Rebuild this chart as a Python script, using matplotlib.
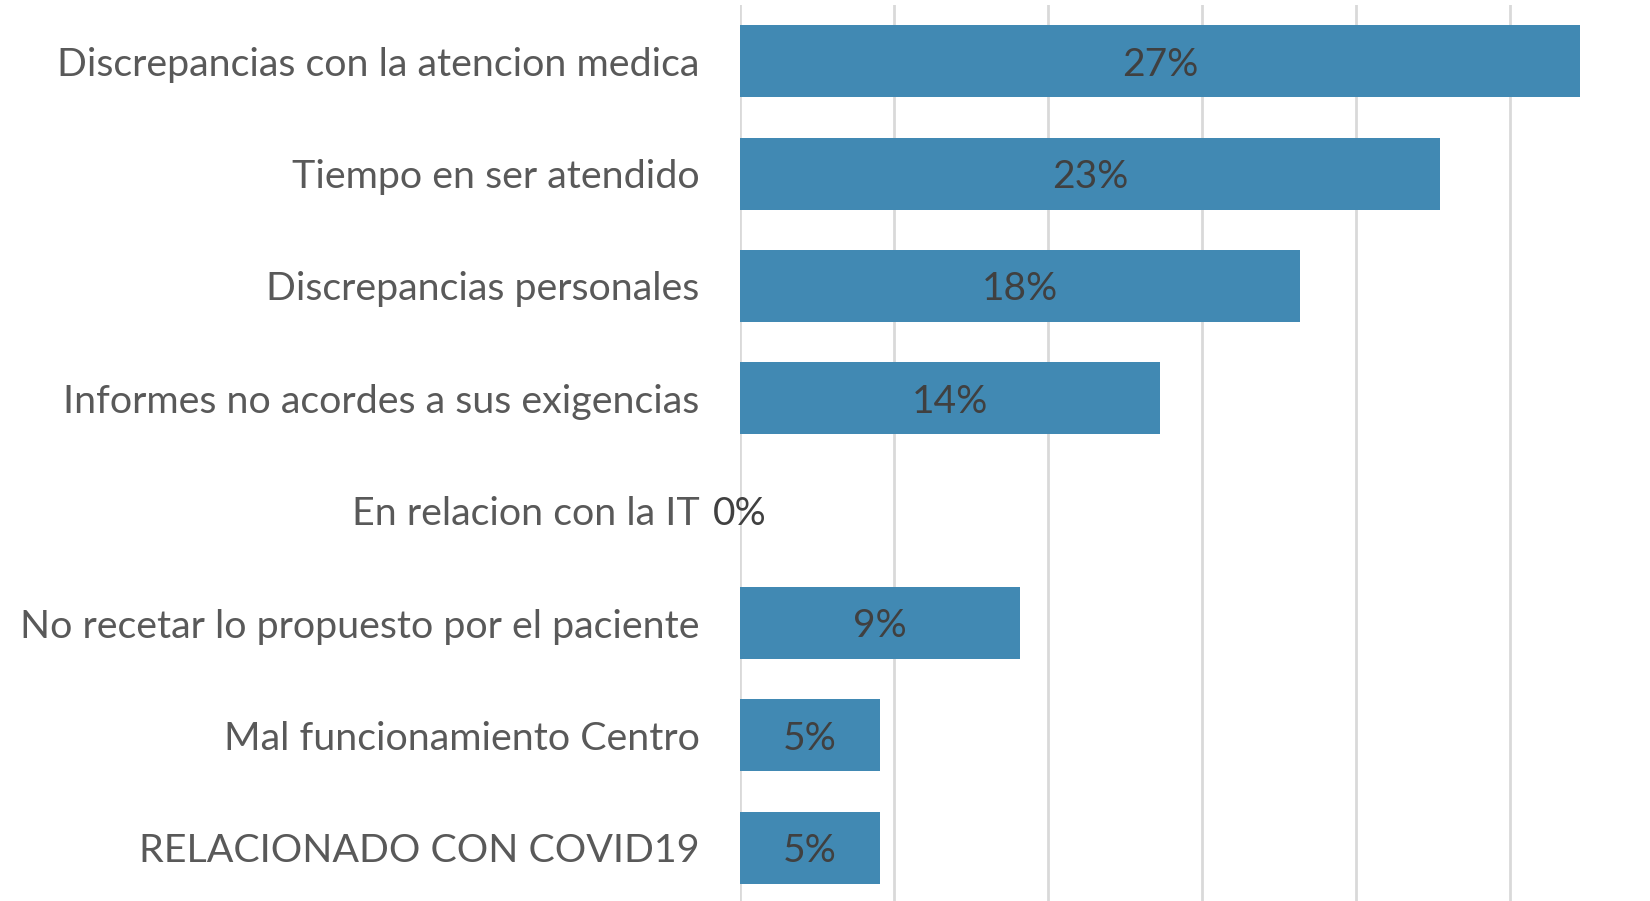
import matplotlib
matplotlib.use("Agg")
import matplotlib.pyplot as plt

categories = [
    "Discrepancias con la atencion medica",
    "Tiempo en ser atendido",
    "Discrepancias personales",
    "Informes no acordes a sus exigencias",
    "En relacion con la IT",
    "No recetar lo propuesto por el paciente",
    "Mal funcionamiento Centro",
    "RELACIONADO CON COVID19",
]
counts = [6, 5, 4, 3, 0, 2, 1, 1]
total = 22
values = [c / total for c in counts]
labels = ["27%", "23%", "18%", "14%", "0%", "9%", "5%", "5%"]

W, H = 1650, 901
fig = plt.figure(figsize=(W / 100, H / 100), dpi=100)
ax = fig.add_axes([740 / W, (901 - 904) / H, 924 / W, 899 / H])

font = "Lato"
y = list(range(len(categories)))
ax.barh(y, values, height=0.64, color="#4189B3", zorder=3)
ax.set_xlim(0, 0.30)
ax.set_ylim(len(categories) - 0.5, -0.5)
ax.set_xticks([0, 0.05, 0.10, 0.15, 0.20, 0.25, 0.30])
ax.xaxis.grid(True, color="#D9D9D9", linewidth=2)
ax.set_xticklabels([])
ax.tick_params(axis="x", length=0)
ax.set_yticks(y)
ax.set_yticklabels(categories, fontsize=28.4, color="#595959", fontfamily=font)
ax.tick_params(axis="y", length=0, pad=29)
for s in ax.spines.values():
    s.set_visible(False)

for yi, v, lab in zip(y, values, labels):
    ax.text(v / 2, yi + 0.03, lab, ha="center", va="center", fontsize=28,
            color="#404040", fontfamily=font, zorder=4)

fig.savefig("out.png", dpi=100)
